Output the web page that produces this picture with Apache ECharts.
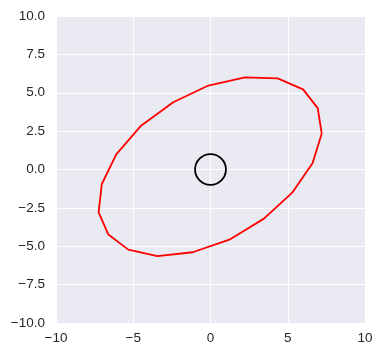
<!DOCTYPE html>
<html><head><meta charset="utf-8">
<script src="https://cdn.jsdelivr.net/npm/echarts@6/dist/echarts.min.js"></script>
<style>html,body{margin:0;padding:0;background:#fff}#c{width:382px;height:357px}</style>
</head><body><div id="c"></div>
<script>
// Red closed curve vertices (x, y)
var curveX = [7.2, 6.94, 5.99, 4.35, 2.23, -0.14, -2.41, -4.52, -6.1, -7.04, -7.24, -6.61, -5.32, -3.44, -1.15, 1.22, 3.46, 5.29, 6.61, 7.2];
var curveY = [2.34, 4.0, 5.22, 5.94, 6.0, 5.47, 4.38, 2.83, 0.99, -0.96, -2.79, -4.24, -5.22, -5.65, -5.39, -4.57, -3.2, -1.51, 0.42, 2.34];
// Black circle: center x, center y, radius (data units)
var circleCX = [0];
var circleCY = [0];
var circleR = [1];
var xTicks = [-10, -5, 0, 5, 10];
var yTicks = [-10.0, -7.5, -5.0, -2.5, 0.0, 2.5, 5.0, 7.5, 10.0];

var curve = curveX.map(function (x, i) { return [x, curveY[i]]; });
var circles = circleCX.map(function (x, i) { return [x, circleCY[i], circleR[i]]; });

var chart = echarts.init(document.getElementById('c'));
var labelFont = {color: '#262626', fontSize: 13.5, fontFamily: 'Liberation Sans, Arial, sans-serif'};
chart.setOption({
  animation: false,
  backgroundColor: '#ffffff',
  grid: {left: 56, top: 16, width: 309, height: 307, show: true, backgroundColor: '#EAEAF2', borderWidth: 0},
  xAxis: {
    type: 'value', min: -10, max: 10, interval: 5,
    axisLine: {show: false}, axisTick: {show: false},
    splitLine: {show: true, lineStyle: {color: '#ffffff', width: 1}},
    axisLabel: Object.assign({margin: 8, formatter: function (v) { return String(v).replace('-', '\u2212'); }}, labelFont)
  },
  yAxis: {
    type: 'value', min: -10, max: 10, interval: 2.5,
    axisLine: {show: false}, axisTick: {show: false},
    splitLine: {show: true, lineStyle: {color: '#ffffff', width: 1}},
    axisLabel: Object.assign({margin: 11, formatter: function (v) { return v.toFixed(1).replace('-', '\u2212'); }}, labelFont)
  },
  series: [
    {
      type: 'line', data: curve, showSymbol: false, symbol: 'none',
      lineStyle: {color: '#ff0000', width: 1.8}, z: 3
    },
    {
      type: 'custom', data: circles, z: 4,
      renderItem: function (params, api) {
        var c = api.coord([api.value(0), api.value(1)]);
        var s = api.size([api.value(2), api.value(2)]);
        return {
          type: 'ellipse',
          shape: {cx: c[0], cy: c[1], rx: s[0], ry: s[1]},
          style: {fill: 'none', stroke: '#000000', lineWidth: 1.8}
        };
      }
    }
  ]
});
</script></body></html>
